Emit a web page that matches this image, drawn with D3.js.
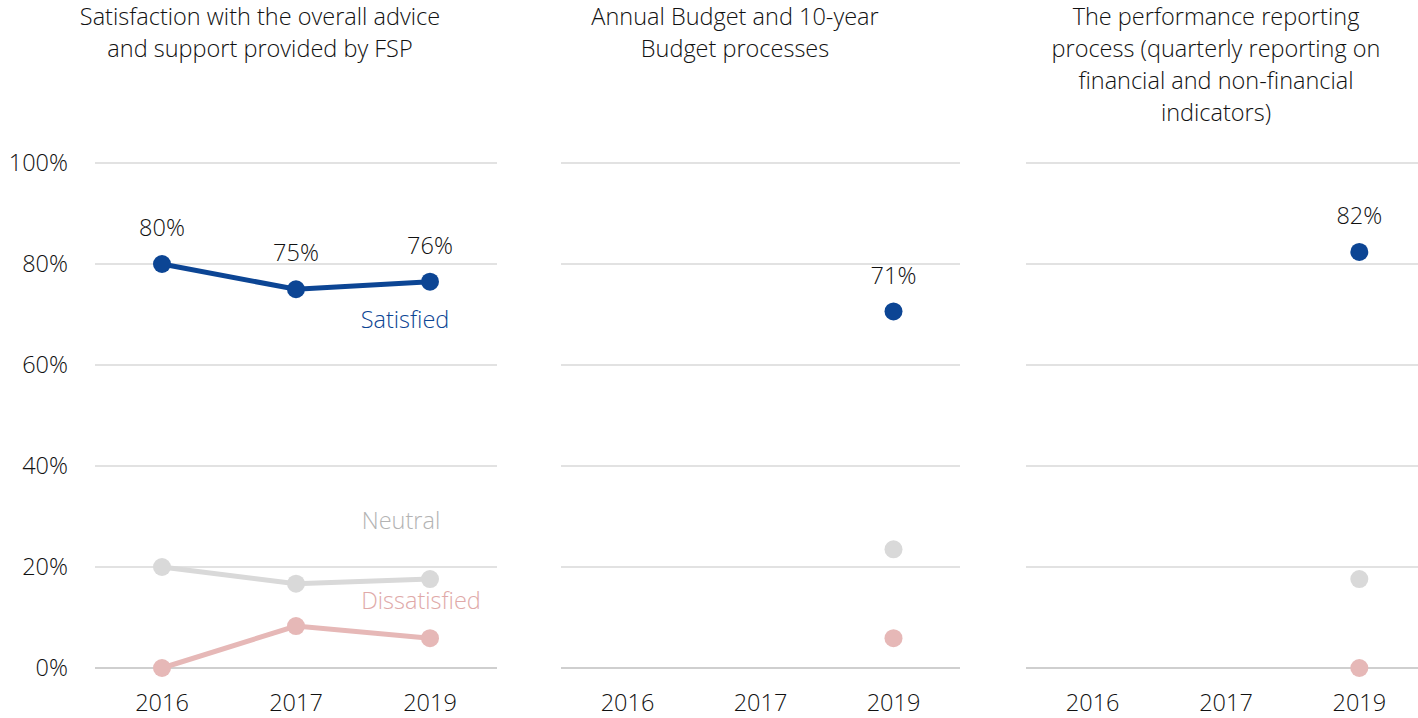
<!DOCTYPE html>
<html>
<head>
<meta charset="utf-8">
<script src="https://cdn.jsdelivr.net/npm/d3@7"></script>
<style>
  body { margin: 0; background: #fff; }
  svg text { font-family: "Open Sans", "Noto Sans", sans-serif; font-weight: 300; }
</style>
</head>
<body>
<svg width="1418" height="718"></svg>
<script>
const years = ["2016", "2017", "2019"];
const yTicks = [0, 20, 40, 60, 80, 100];

const panelTitles = [
  ["Satisfaction with the overall advice", "and support provided by FSP"],
  ["Annual Budget and 10-year", "Budget processes"],
  ["The performance reporting", "process (quarterly reporting on", "financial and non-financial", "indicators)"]
];

// values per panel, null = no data
const satisfied = [
  [80, 75, 76.5],
  [null, null, 70.6],
  [null, null, 82.4]
];
const neutral = [
  [20, 16.7, 17.6],
  [null, null, 23.5],
  [null, null, 17.6]
];
const dissatisfied = [
  [0, 8.3, 5.9],
  [null, null, 5.9],
  [null, null, 0]
];
// labels shown above satisfied points
const satLabels = [
  ["80%", "75%", "76%"],
  [null, null, "71%"],
  [null, null, "82%"]
];

const colors = { sat: "#0c4594", neu: "#d9d9d9", dis: "#e6b8b7" };
const fs = 23.5;

const svg = d3.select("svg");

const y = d3.scaleLinear().domain([0, 100]).range([668, 163]);

const panels = [
  { x0: 95, x1: 497, tx: 260 },
  { x0: 561, x1: 960, tx: 735 },
  { x0: 1026, x1: 1426, tx: 1216 }
];

// y axis labels
svg.append("g")
  .selectAll("text")
  .data(yTicks)
  .enter()
  .append("text")
  .attr("x", 68)
  .attr("y", d => y(d))
  .attr("dy", "0.35em")
  .attr("text-anchor", "end")
  .attr("font-size", fs)
  .attr("fill", "#111")
  .text(d => d + "%");

panels.forEach((p, i) => {
  const g = svg.append("g");
  const x = d3.scalePoint().domain(years).range([p.x0, p.x1]).padding(0.5);

  // title
  g.append("text")
    .attr("x", p.tx)
    .attr("y", 17)
    .attr("text-anchor", "middle")
    .attr("font-size", fs)
    .attr("fill", "#111")
    .selectAll("tspan")
    .data(panelTitles[i])
    .enter()
    .append("tspan")
    .attr("x", p.tx)
    .attr("dy", (d, k) => k === 0 ? "0.35em" : 32)
    .text(d => d);

  // grid
  g.selectAll(".grid")
    .data(yTicks)
    .enter()
    .append("line")
    .attr("x1", p.x0)
    .attr("x2", p.x1)
    .attr("y1", d => y(d))
    .attr("y2", d => y(d))
    .attr("stroke", d => d === 0 ? "#bfbfbf" : "#d9d9d9")
    .attr("stroke-width", 1.5);

  // x axis labels
  g.selectAll(".xl")
    .data(years)
    .enter()
    .append("text")
    .attr("x", d => x(d))
    .attr("y", 703)
    .attr("dy", "0.35em")
    .attr("text-anchor", "middle")
    .attr("font-size", fs)
    .attr("fill", "#111")
    .text(d => d);

  const series = [
    { vals: neutral[i], c: colors.neu },
    { vals: dissatisfied[i], c: colors.dis },
    { vals: satisfied[i], c: colors.sat }
  ];

  series.forEach(s => {
    const pts = years.map((yr, k) => ({ yr: yr, v: s.vals[k] })).filter(d => d.v !== null);
    const line = d3.line().x(d => x(d.yr)).y(d => y(d.v));
    if (pts.length > 1) {
      g.append("path")
        .datum(pts)
        .attr("d", line)
        .attr("fill", "none")
        .attr("stroke", s.c)
        .attr("stroke-width", 5);
    }
    g.selectAll(null)
      .data(pts)
      .enter()
      .append("circle")
      .attr("cx", d => x(d.yr))
      .attr("cy", d => y(d.v))
      .attr("r", 9)
      .attr("fill", s.c);
  });

  // value labels
  const lab = years.map((yr, k) => ({ yr: yr, v: satisfied[i][k], t: satLabels[i][k] })).filter(d => d.t);
  g.selectAll(".vl")
    .data(lab)
    .enter()
    .append("text")
    .attr("x", d => x(d.yr))
    .attr("y", d => y(d.v) - 36)
    .attr("dy", "0.35em")
    .attr("text-anchor", "middle")
    .attr("font-size", fs)
    .attr("fill", "#111")
    .text(d => d.t);

  if (i === 0) {
    const sl = [
      { t: "Satisfied", x: 405, y: 320, c: colors.sat },
      { t: "Neutral", x: 401, y: 521, c: "#b3b3b3" },
      { t: "Dissatisfied", x: 421, y: 601, c: "#e0a9a8" }
    ];
    g.selectAll(".sl")
      .data(sl)
      .enter()
      .append("text")
      .attr("x", d => d.x)
      .attr("y", d => d.y)
      .attr("dy", "0.35em")
      .attr("text-anchor", "middle")
      .attr("font-size", fs)
      .attr("fill", d => d.c)
      .text(d => d.t);
  }
});
</script>
</body>
</html>
